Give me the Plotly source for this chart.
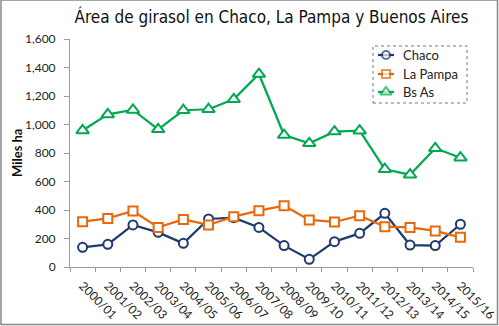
import plotly.graph_objects as go

campaigns = ["2000/01", "2001/02", "2002/03", "2003/04", "2004/05", "2005/06", "2006/07", "2007/08",
             "2008/09", "2009/10", "2010/11", "2011/12", "2012/13", "2013/14", "2014/15", "2015/16"]
chaco = [138, 159, 295, 243, 166, 337, 346, 278, 150, 54, 178, 236, 377, 154, 150, 300]
la_pampa = [318, 341, 393, 278, 334, 295, 353, 395, 430, 330, 316, 360, 283, 278, 253, 208]
bs_as = [958, 1071, 1102, 966, 1100, 1107, 1177, 1354, 926, 868, 950, 957, 686, 648, 833, 767]
y_ticks = [0, 200, 400, 600, 800, 1000, 1200, 1400, 1600]

series = [
    ("Chaco", chaco, "#1F3A6E", "circle", 9),
    ("La Pampa", la_pampa, "#E8680C", "square", 9),
    ("Bs As", bs_as, "#00A84F", "triangle-up", 11),
]

W, H = 499, 326
L, R, T, B = 70, 26, 39, 59
pw, ph = W - L - R, H - T - B

def px(x):
    return (x - L) / pw

def py(y):
    return (H - B - y) / ph

fig = go.Figure()
for name, vals, col, sym, sz in series:
    fig.add_trace(go.Scatter(
        x=campaigns, y=vals, name=name, mode="lines+markers", showlegend=False,
        line=dict(color=col, width=2.25),
        marker=dict(symbol=sym, size=sz, color="white", line=dict(color=col, width=2)),
    ))

# custom legend drawn on a pixel-space overlay axis (short key lines like the original)
leg_x0, leg_x1, leg_text_x = 378, 394, 401
leg_rows = [55, 74, 92]
annotations = []
for (name, vals, col, sym, sz), ry in zip(series, leg_rows):
    fig.add_trace(go.Scatter(
        x=[leg_x0, (leg_x0 + leg_x1) / 2, leg_x1], y=[ry, ry, ry], xaxis="x2", yaxis="y2",
        mode="lines+markers", showlegend=False, hoverinfo="skip",
        line=dict(color=col, width=2.25),
        marker=dict(symbol=sym, size=[0, sz - 1, 0], color="white", line=dict(color=col, width=2)),
    ))
    annotations.append(dict(x=leg_text_x, y=ry, xref="x2", yref="y2", text=name, showarrow=False,
                            xanchor="left", yanchor="middle", font=dict(size=13, color="#222")))

annotations.append(dict(x=px(17), y=0.5, xref="paper", yref="paper", text="<b>Miles ha</b>",
                        textangle=-90, showarrow=False, xanchor="center", yanchor="middle",
                        font=dict(size=13, color="#111")))

fig.update_layout(
    width=W, height=H,
    margin=dict(l=L, r=R, t=T, b=B, autoexpand=False),
    paper_bgcolor="white", plot_bgcolor="white",
    font=dict(family="Lato, Open Sans, sans-serif", size=12, color="#222"),
    title=dict(text="Área de girasol en Chaco, La Pampa y Buenos Aires",
               x=0.5, xref="paper", y=1 - 17 / H, yanchor="middle", xanchor="center",
               font=dict(family="DejaVu Sans Condensed, Liberation Sans Narrow, sans-serif",
                         size=17, color="#111")),
    showlegend=False,
    xaxis=dict(type="category", showgrid=False, showline=True, linecolor="#9a9a9a", linewidth=1,
               ticks="outside", tickson="boundaries", ticklen=4, tickcolor="#9a9a9a",
               tickangle=45, tickfont=dict(size=12, color="#222"), range=[-0.5, 15.5],
               automargin=False, ticklabelstandoff=6),
    yaxis=dict(range=[0, 1600], tickvals=y_ticks, tickformat=",", showgrid=False,
               showline=True, linecolor="#9a9a9a", linewidth=1, ticks="outside", ticklen=5,
               tickcolor="#9a9a9a", tickfont=dict(size=12, color="#222"), zeroline=False,
               automargin=False, ticklabelstandoff=6),
    xaxis2=dict(overlaying="x", range=[L, W - R], visible=False, fixedrange=True),
    yaxis2=dict(overlaying="y", range=[H - B, T], visible=False, fixedrange=True),
    annotations=annotations,
    shapes=[
        dict(type="rect", xref="paper", yref="paper", x0=px(373), x1=px(467), y0=py(103), y1=py(46),
             line=dict(color="#777", width=1, dash="dot"), fillcolor="rgba(0,0,0,0)"),
        dict(type="rect", xref="paper", yref="paper", x0=px(1), x1=px(497.5), y0=py(324.5), y1=py(0),
             line=dict(color="#888", width=1.5), fillcolor="rgba(0,0,0,0)"),
    ],
)

fig.write_html("out.html")
